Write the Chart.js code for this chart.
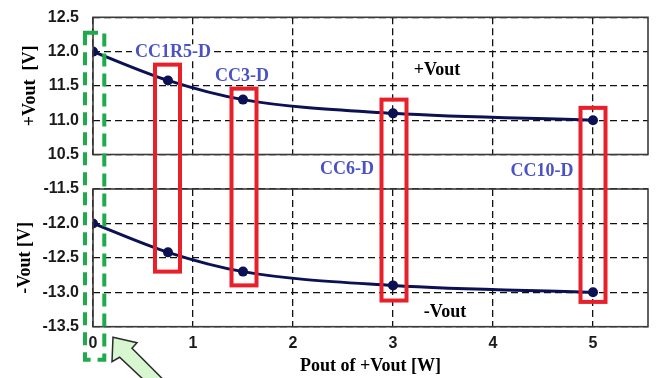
<!DOCTYPE html>
<html>
<head>
<meta charset="utf-8">
<script src="https://cdn.jsdelivr.net/npm/chart.js@4.4.0/dist/chart.umd.min.js"></script>
<style>
body { margin: 0; background: #fff; }
#wrap { position: relative; width: 656px; height: 378px; overflow: hidden; }
canvas { position: absolute; left: 0; }
</style>
</head>
<body>
<div id="wrap">
  <canvas id="topC" width="656" height="175" style="top:0px"></canvas>
  <canvas id="botC" width="656" height="218" style="top:160px"></canvas>
  <canvas id="over" width="656" height="378" style="top:0px"></canvas>
</div>
<script>
// output power of +Vout [W]
const power = [0, 0.75, 1.5, 3, 5];
const vPlus = [12.0, 11.58, 11.3, 11.1, 11.0];
const vMinus = [-12.0, -12.42, -12.7, -12.9, -13.0];

const xTicks = [0, 1, 2, 3, 4, 5];
const yTicksPlus = [10.5, 11.0, 11.5, 12.0, 12.5];
const yTicksMinus = [-13.5, -13.0, -12.5, -12.0, -11.5];

const partNames = ['CC1R5-D', 'CC3-D', 'CC6-D', 'CC10-D'];
const partPower = [0.75, 1.5, 3, 5];

const BOT_OFFSET = 160;
const lineCol = '#0b1152';
const tickFont = { family: '"Liberation Sans", Arial, sans-serif', size: 16, weight: 'bold' };
const titleFont = { family: '"Liberation Serif", "Times New Roman", serif', size: 18, weight: 'bold' };

const boxPlugin = {
  id: 'box',
  afterDraw(chart) {
    const a = chart.chartArea, ctx = chart.ctx;
    ctx.save();
    ctx.strokeStyle = '#3a3a3a';
    ctx.lineWidth = 1.6;
    ctx.strokeRect(a.left, a.top, a.right - a.left, a.bottom - a.top);
    ctx.restore();
  }
};

function makeChart(id, values, yTicks, yTitle, titlePad, xHeight, pad) {
  const showX = xHeight > 30;
  return new Chart(document.getElementById(id), {
    type: 'line',
    data: {
      datasets: [{
        data: power.map((p, i) => ({ x: p, y: values[i] })),
        borderColor: lineCol,
        backgroundColor: lineCol,
        borderWidth: 3,
        pointRadius: 5,
        pointBackgroundColor: lineCol,
        pointBorderWidth: 0,
        cubicInterpolationMode: 'monotone'
      }]
    },
    options: {
      responsive: false,
      animation: false,
      layout: { padding: pad, autoPadding: false },
      plugins: { legend: { display: false }, tooltip: { enabled: false } },
      scales: {
        x: {
          type: 'linear',
          min: 0,
          max: 5.55,
          afterBuildTicks: s => { s.ticks = xTicks.map(v => ({ value: v })); },
          afterFit: s => { s.height = xHeight; },
          grid: { color: '#111', lineWidth: 1.3, drawTicks: false },
          border: { display: false, dash: [7, 4] },
          ticks: { display: showX, padding: 7, color: '#1a1a1a', font: tickFont, callback: v => String(v) },
          title: { display: showX, text: 'Pout of +Vout [W]', color: '#000', font: titleFont, padding: { top: 0, bottom: 1 } }
        },
        y: {
          min: yTicks[0],
          max: yTicks[yTicks.length - 1],
          afterBuildTicks: s => { s.ticks = yTicks.map(v => ({ value: v })); },
          afterFit: s => {
            s.width = 93;
            // keep label overflow from pushing the plot area around
            s.paddingTop = 0;
            s.paddingBottom = 0;
          },
          grid: { color: '#111', lineWidth: 1.3, drawTicks: false },
          border: { display: false, dash: [7, 4] },
          ticks: { padding: 14, color: '#1a1a1a', font: tickFont, callback: v => v.toFixed(1) },
          title: { display: true, text: yTitle, color: '#000', font: titleFont, padding: { top: titlePad, bottom: 0 } }
        }
      }
    },
    plugins: [boxPlugin]
  });
}

const topChart = makeChart('topC', vPlus, yTicksPlus, '+Vout  [V]', 20,
  20.5, { top: 17.3, right: 8, bottom: 0, left: 0 });
const botChart = makeChart('botC', vMinus, yTicksMinus, '-Vout [V]', 15,
  51.3, { top: 29, right: 8, bottom: 0, left: 0 });

// annotations: part labels, red boxes, green dashed box, arrow
const labelPos = [
  { x: 0.8, top: 11.99 },
  { x: 1.49, top: 11.64 },
  { x: 2.54, bot: -11.22 },
  { x: 4.49, bot: -11.25 }
];
const redBoxes = [
  { x: 0.745, top: 11.81, bot: -12.70 },
  { x: 1.51, top: 11.46, bot: -12.90 },
  { x: 3.01, top: 11.30, bot: -13.12 },
  { x: 5.0, top: 11.18, bot: -13.14 }
];

function drawNotes() {
  const ctx = document.getElementById('over').getContext('2d');
  const px = v => botChart.scales.x.getPixelForValue(v);
  const yT = v => topChart.scales.y.getPixelForValue(v);
  const yB = v => botChart.scales.y.getPixelForValue(v) + BOT_OFFSET;

  ctx.font = 'bold 18px "Liberation Serif", serif';
  ctx.textAlign = 'center';
  ctx.textBaseline = 'middle';
  partNames.forEach((n, i) => {
    const p = labelPos[i];
    const x = px(p.x), y = p.top !== undefined ? yT(p.top) : yB(p.bot);
    const w = ctx.measureText(n).width;
    ctx.fillStyle = '#fff';
    ctx.fillRect(x - w / 2 - 3, y - 8, w + 6, 16);
    ctx.fillStyle = '#4a52c4';
    ctx.fillText(n, x, y);
  });
  ctx.fillStyle = '#000';
  ctx.fillText('+Vout', px(3.44), yT(11.73));
  ctx.fillText('-Vout', px(3.52), yB(-13.29));

  ctx.strokeStyle = '#e8202a';
  ctx.lineWidth = 4;
  redBoxes.forEach(b => {
    const l = px(b.x - 0.125), r = px(b.x + 0.125);
    const t = yT(b.top), btm = yB(b.bot);
    ctx.strokeRect(l, t, r - l, btm - t);
  });

  ctx.save();
  ctx.strokeStyle = '#1faa4c';
  ctx.lineWidth = 4;
  ctx.setLineDash([13, 7]);
  const gl = px(-0.08), gr = px(0.113), gt = yT(12.275), gb = yB(-13.98);
  ctx.strokeRect(gl, gt, gr - gl, gb - gt);
  ctx.restore();

  // block arrow pointing at x = 0
  const tx = px(0) + 20, ty = yB(-13.5) + 10.6;
  const pts = [[0, 0], [24, 5.4], [19, 11], [58, 50], [43, 54], [6.6, 20], [-1, 24.4]];
  ctx.beginPath();
  pts.forEach((p, i) => i ? ctx.lineTo(tx + p[0], ty + p[1]) : ctx.moveTo(tx + p[0], ty + p[1]));
  ctx.closePath();
  ctx.fillStyle = '#d6f7cf';
  ctx.fill();
  ctx.strokeStyle = '#2b2b2b';
  ctx.lineWidth = 1.5;
  ctx.stroke();
}
drawNotes();
</script>
</body>
</html>
